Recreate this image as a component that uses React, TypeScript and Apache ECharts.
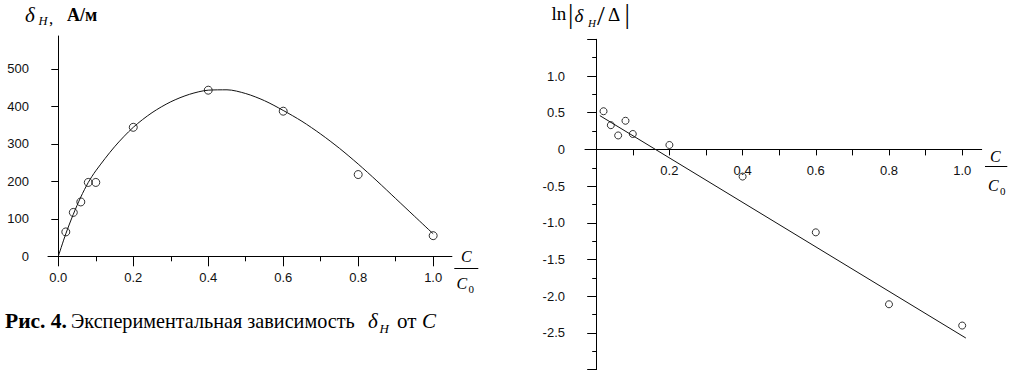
import React, { useEffect, useRef } from "react";
import * as echarts from "echarts";

// ---- Left chart: δH vs C/C0 ----
const leftPointsX = [0.02, 0.04, 0.06, 0.08, 0.1, 0.2, 0.4, 0.6, 0.8, 1.0];
const leftPointsY = [65, 117, 145, 197, 197, 344, 443, 387, 218, 55];
const leftCurveX = [0, 0.02, 0.04, 0.06, 0.08, 0.1, 0.15, 0.2, 0.25, 0.3, 0.35, 0.4, 0.45, 0.5, 0.55, 0.6, 0.65, 0.7, 0.75, 0.8, 0.85, 0.9, 0.95, 1.0];
const leftCurveY = [0, 60, 112, 158, 197, 228, 292, 344, 383, 412, 432, 443, 444, 434, 415, 389, 360, 326, 288, 246, 201, 154, 107, 60];
const leftXTicks = [0, 0.2, 0.4, 0.6, 0.8, 1.0];
const leftXMinorTicks = [0.1, 0.3, 0.5, 0.7, 0.9];
const leftYTicks = [0, 100, 200, 300, 400, 500];

// ---- Right chart: ln|δH/Δ| vs C/C0 ----
const rightPointsX = [0.02, 0.04, 0.06, 0.08, 0.1, 0.2, 0.4, 0.6, 0.8, 1.0];
const rightPointsY = [0.52, 0.33, 0.19, 0.39, 0.21, 0.06, -0.37, -1.13, -2.11, -2.4];
const rightLineX = [0.01, 1.01];
const rightLineY = [0.46, -2.57];
const rightXTicks = [0.1, 0.2, 0.3, 0.4, 0.5, 0.6, 0.7, 0.8, 0.9, 1.0];
const rightXLabels = [0.2, 0.4, 0.6, 0.8, 1.0];

const SERIF = "'Liberation Serif', 'Times New Roman', serif";
const SANS = "'Liberation Sans', Arial, sans-serif";

const zip = (xs: number[], ys: number[]) => xs.map((x, i) => [x, ys[i]]);

// y given as alphabetic baseline; converted to em-box centre
const txt = (
  text: string,
  x: number,
  baseline: number,
  size: number,
  opts: { italic?: boolean; bold?: boolean } = {}
) => ({
  type: "text",
  x,
  y: baseline - 0.3375 * size,
  style: {
    text,
    fill: "#000",
    font: `${opts.italic ? "italic " : ""}${opts.bold ? "bold " : ""}${size}px ${SERIF}`,
    verticalAlign: "middle",
    align: "left",
  },
});

const hline = (x1: number, x2: number, y: number) => ({
  type: "line",
  shape: { x1, y1: y, x2, y2: y },
  style: { stroke: "#000", lineWidth: 1 },
});

export default function App() {
  const ref = useRef<HTMLDivElement>(null);

  useEffect(() => {
    if (!ref.current) return;
    const chart = echarts.init(ref.current, undefined, { renderer: "svg" });
    const labelStyle = { color: "#111", fontFamily: SANS, fontSize: 13 };
    const axisLineStyle = { color: "#000", width: 1 };

    const rightTop = 39.3;
    const rightHeight = 330.3;
    const rightYMin = -3;
    const rightYMax = 1.5;
    // distance from grid bottom up to y = 0
    const zeroOffset = -rightHeight * (0 - rightYMin) / (rightYMax - rightYMin);

    chart.setOption({
      animation: false,
      backgroundColor: "#fff",
      grid: [
        { left: 48, top: 36, width: 403.9, height: 220.3, outerBoundsMode: "none", containLabel: false },
        { left: 585, top: rightTop, width: 396.7, height: rightHeight, outerBoundsMode: "none", containLabel: false },
      ],
      xAxis: [
        {
          type: "value",
          gridIndex: 0,
          min: -0.0275,
          max: 1.05,
          position: "bottom",
          axisLine: { show: true, onZero: false, lineStyle: axisLineStyle },
          axisTick: { show: true, customValues: leftXTicks, length: 10, lineStyle: axisLineStyle },
          axisLabel: {
            ...labelStyle,
            customValues: leftXTicks,
            margin: 15,
            formatter: (v: number) => v.toFixed(1),
          },
          splitLine: { show: false },
        },
        {
          type: "value",
          gridIndex: 0,
          min: -0.0275,
          max: 1.05,
          position: "bottom",
          axisLine: { show: false, onZero: false },
          axisTick: { show: true, customValues: leftXMinorTicks, length: 5, lineStyle: axisLineStyle },
          axisLabel: { show: false },
          splitLine: { show: false },
        },
        {
          type: "value",
          gridIndex: 1,
          min: -0.0306,
          max: 1.0533,
          position: "bottom",
          offset: zeroOffset,
          axisLine: { show: true, onZero: false, lineStyle: axisLineStyle },
          axisTick: { show: true, customValues: rightXTicks, length: 6, lineStyle: axisLineStyle },
          axisLabel: {
            ...labelStyle,
            customValues: rightXLabels,
            margin: 15,
            formatter: (v: number) => v.toFixed(1),
          },
          splitLine: { show: false },
        },
      ],
      yAxis: [
        {
          type: "value",
          gridIndex: 0,
          min: 0,
          max: 587.5,
          axisLine: { show: true, onZero: true, onZeroAxisIndex: 0, lineStyle: axisLineStyle },
          axisTick: { show: true, customValues: leftYTicks, length: 7, lineStyle: axisLineStyle },
          axisLabel: { ...labelStyle, customValues: leftYTicks, margin: 19 },
          splitLine: { show: false },
        },
        {
          type: "value",
          gridIndex: 1,
          min: rightYMin,
          max: rightYMax,
          interval: 0.5,
          axisLine: { show: true, onZero: true, lineStyle: axisLineStyle },
          axisTick: { show: true, length: 9, lineStyle: axisLineStyle },
          minorTick: { show: true, splitNumber: 2, length: 4, lineStyle: axisLineStyle },
          axisLabel: {
            ...labelStyle,
            margin: 20,
            formatter: (v: number) =>
              v <= -3 || v >= 1.5 ? "" : v === 0 ? "0" : v.toFixed(1),
          },
          splitLine: { show: false },
        },
      ],
      series: [
        {
          type: "line",
          xAxisIndex: 0,
          yAxisIndex: 0,
          data: zip(leftCurveX, leftCurveY),
          smooth: 0.3,
          showSymbol: false,
          silent: true,
          lineStyle: { color: "#111", width: 1 },
        },
        {
          type: "scatter",
          xAxisIndex: 0,
          yAxisIndex: 0,
          data: zip(leftPointsX, leftPointsY),
          symbol: "circle",
          symbolSize: 8,
          itemStyle: { color: "transparent", borderColor: "#000", borderWidth: 1 },
        },
        {
          type: "line",
          xAxisIndex: 2,
          yAxisIndex: 1,
          data: zip(rightLineX, rightLineY),
          showSymbol: false,
          silent: true,
          lineStyle: { color: "#111", width: 1 },
        },
        {
          type: "scatter",
          xAxisIndex: 2,
          yAxisIndex: 1,
          data: zip(rightPointsX, rightPointsY),
          symbol: "circle",
          symbolSize: 7,
          itemStyle: { color: "transparent", borderColor: "#000", borderWidth: 1 },
        },
      ],
      graphic: [
        // left axis title: δH, А/м
        txt("δ", 25, 21.7, 21, { italic: true }),
        txt("H", 38.5, 25, 12.5, { italic: true }),
        txt(",", 49, 24, 17),
        txt("А/м", 67, 21, 18, { bold: true }),
        // left fraction C/C0
        txt("C", 461, 262, 16, { italic: true }),
        hline(454.3, 478.3, 268.5),
        txt("C", 456.5, 289, 16, { italic: true }),
        txt("0", 468.5, 292.5, 11),
        // caption
        txt("Рис. 4.", 5, 328, 21.5, { bold: true }),
        txt("Экспериментальная зависимость", 71, 328, 20.2),
        txt("δ", 368, 328, 21, { italic: true }),
        txt("H", 379.5, 333, 13, { italic: true }),
        txt("от", 397, 328, 21),
        txt("C", 422, 328, 21, { italic: true }),
        // right axis title: ln|δH/Δ|
        txt("ln", 551.5, 20, 19),
        txt("|", 568, 23, 27),
        txt("δ", 574.5, 21.7, 19, { italic: true }),
        txt("H", 588, 26.7, 11, { italic: true }),
        txt("/", 597, 24.5, 28),
        txt("Δ", 608, 20.7, 19),
        txt("|", 624.5, 23, 27),
        // right fraction C/C0
        txt("C", 990, 162, 16, { italic: true }),
        hline(985, 1007.3, 166.5),
        txt("C", 988, 191, 16, { italic: true }),
        txt("0", 1000, 194.5, 11),
      ],
    });

    return () => chart.dispose();
  }, []);

  return (
    <div
      ref={ref}
      style={{ position: "absolute", left: 0, top: 0, width: 1016, height: 372 }}
    />
  );
}
